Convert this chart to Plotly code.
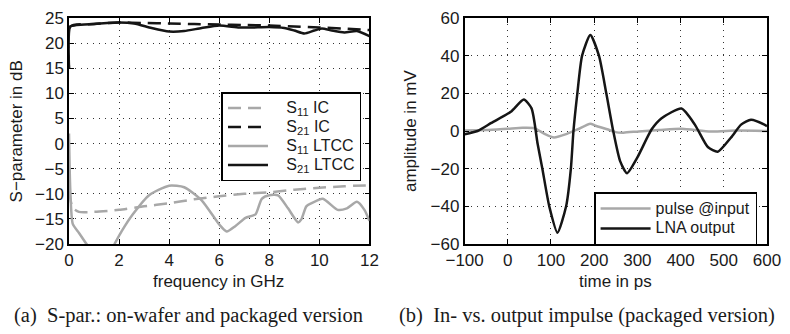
import plotly.graph_objects as go

# ---- left panel data (frequency in GHz, S-parameters in dB) ----
f_s21_ltcc = [0, 0.05, 0.3, 1, 2, 2.6, 3.3, 4, 4.6, 5.3, 6, 6.8, 7.3, 8, 8.6, 9.0, 9.4, 9.8, 10.1, 10.5, 11, 11.5, 12]
s21_ltcc = [15, 23.3, 23.6, 23.8, 24.1, 23.9, 23.0, 22.3, 22.4, 23.0, 23.5, 23.1, 23.1, 23.2, 23.0, 22.5, 21.9, 22.5, 22.9, 22.5, 22.1, 22.4, 21.4]

f_s21_ic = [0, 0.05, 1, 2, 3, 4, 5, 6, 7, 8, 9, 10, 11, 12]
s21_ic = [15, 23.3, 23.8, 24.1, 24.0, 23.9, 23.8, 23.7, 23.6, 23.5, 23.3, 23.1, 22.9, 22.6]

f_s11_ic = [0, 0.15, 0.4, 1, 2, 3, 4, 5, 6, 7, 8, 9, 10, 11, 12]
s11_ic = [-9.5, -12.8, -13.6, -13.6, -13.2, -12.5, -11.9, -11.1, -10.5, -10.0, -9.7, -9.2, -8.8, -8.5, -8.3]

f_s11_ltcc = [0, 0.05, 0.15, 0.4, 0.7, 1.0, 1.3, 1.6, 1.82, 2.1, 2.55, 3.2, 4.0, 4.6, 5.3, 6.0, 6.3, 6.65,
              7.05, 7.45, 7.7, 8.0, 8.35, 8.75, 9.15, 9.28, 9.48, 9.68, 10.14, 10.73, 11.1, 11.5, 11.8, 12]
s11_ltcc = [2, -9, -16, -17.8, -20, -22, -23, -22, -20, -17.5, -14.1, -10.3, -8.4, -8.7, -11.3, -16.1, -17.5, -16.4,
            -14.8, -14.1, -11.0, -10.3, -10.3, -12.9, -15.7, -15.1, -12.5, -11.9, -11.0, -13.2, -12.9, -11.6, -13.2, -15.4]

# ---- right panel data (time in ps, amplitude in mV) ----
t_lna = [-100, -70, -38, 7, 37, 55, 69, 80, 96, 115, 135, 146, 152, 161, 172, 191, 211, 228, 244, 260, 276,
         300, 333, 356, 402, 433, 463, 486, 517, 540, 563, 594, 600]
v_lna = [-1.7, 0, 4.3, 10.2, 16.7, 12, -6.8, -20, -40, -54, -40, -20, 0, 20, 40, 51, 40, 20, 0, -16, -22.4,
         -14, 0.9, 6.8, 11.9, 3.4, -8.5, -11, -3.4, 3.4, 6, 3.4, 2.5]

t_pulse = [-100, -50, 0, 34, 61, 85, 107, 137, 161, 191, 203, 230, 249, 268, 303, 350, 402, 470, 530, 600]
v_pulse = [0.3, 0.5, 1.2, 1.7, 1.5, -1.5, -3.4, -1.5, 0.8, 3.9, 2.8, 0.9, -0.6, -0.9, -0.2, 0.5, 1.2, -0.3, 0.2, 0]

left_xticks = [0, 2, 4, 6, 8, 10, 12]
left_yticks = [-20, -15, -10, -5, 0, 5, 10, 15, 20, 25]
right_xticks = [-100, 0, 100, 200, 300, 400, 500, 600]
right_yticks = [-60, -40, -20, 0, 20, 40, 60]

left_names = ["S<sub>11</sub> IC", "S<sub>21</sub> IC", "S<sub>11</sub> LTCC", "S<sub>21</sub> LTCC"]
right_names = ["pulse @input", "LNA output"]
captions = ["(a)  S-par.: on-wafer and packaged version", "(b)  In- vs. output impulse (packaged version)"]

GRAY = "#a8a8a8"
BLACK = "#151515"
LW = 2.5
SANS = "Liberation Sans, Arial, sans-serif"
SERIF = "Liberation Serif, Times New Roman, serif"


def big(s, size=16):
    return '<span style="font-size:%dpx">%s</span>' % (size, s)


fig = go.Figure()

fig.add_trace(go.Scatter(x=f_s11_ic, y=s11_ic, mode="lines", name=big("&nbsp;&nbsp;&nbsp;" + left_names[0]),
                         line=dict(color=GRAY, width=LW, dash="13px,7px", shape="spline", smoothing=0.6),
                         xaxis="x", yaxis="y", legend="legend"))
fig.add_trace(go.Scatter(x=f_s21_ic, y=s21_ic, mode="lines", name=big("&nbsp;&nbsp;&nbsp;" + left_names[1]),
                         line=dict(color=BLACK, width=LW, dash="13px,7px", shape="spline", smoothing=0.6),
                         xaxis="x", yaxis="y", legend="legend"))
fig.add_trace(go.Scatter(x=f_s11_ltcc, y=s11_ltcc, mode="lines", name=big("&nbsp;&nbsp;&nbsp;" + left_names[2]),
                         line=dict(color=GRAY, width=LW, shape="spline", smoothing=0.6),
                         xaxis="x", yaxis="y", legend="legend", cliponaxis=False))
fig.add_trace(go.Scatter(x=f_s21_ltcc, y=s21_ltcc, mode="lines", name=big("&nbsp;&nbsp;&nbsp;" + left_names[3]),
                         line=dict(color=BLACK, width=LW, shape="spline", smoothing=0.6),
                         xaxis="x", yaxis="y", legend="legend"))

fig.add_trace(go.Scatter(x=t_pulse, y=v_pulse, mode="lines", name=big(right_names[0]),
                         line=dict(color=GRAY, width=LW, shape="spline", smoothing=0.6),
                         xaxis="x2", yaxis="y2", legend="legend2"))
fig.add_trace(go.Scatter(x=t_lna, y=v_lna, mode="lines", name=big(right_names[1]),
                         line=dict(color=BLACK, width=LW, shape="spline", smoothing=0.6),
                         xaxis="x2", yaxis="y2", legend="legend2"))

W, H = 790, 334
ML, MR, MT, MB = 69, 17, 9, 90
PW = W - ML - MR
PH = H - MT - MB


def px(x):
    return (x - ML) / PW


def py(y):
    return 1 - (y - MT) / PH


axis_common = dict(showline=True, linewidth=1.5, linecolor="black", mirror="ticks",
                   ticks="inside", ticklen=5, tickwidth=1, tickcolor="black",
                   showgrid=True, gridcolor="#333333", gridwidth=1, griddash="1px,5px",
                   zeroline=False, tickfont=dict(family=SANS, size=17, color="#1a1a1a"))

fig.update_layout(
    width=W, height=H,
    margin=dict(l=ML, r=MR, t=MT, b=MB),
    plot_bgcolor="white", paper_bgcolor="white",
    xaxis=dict(domain=[0, px(372)], range=[0, 12], tickvals=left_xticks, anchor="y", **axis_common),
    yaxis=dict(domain=[0, 1], range=[-20, 25], tickvals=left_yticks, anchor="x", layer="below traces",
               **axis_common),
    xaxis2=dict(domain=[px(468), 1], range=[-100, 600], tickvals=right_xticks, anchor="y2", **axis_common),
    yaxis2=dict(domain=[0, 1], range=[-60, 60], tickvals=right_yticks, anchor="x2", **axis_common),
    legend=dict(x=px(364), y=py(86), xanchor="right", yanchor="top",
                bgcolor="white", bordercolor="black", borderwidth=1.5,
                font=dict(family=SANS, size=12, color="#1a1a1a"), itemwidth=40,
                tracegroupgap=0),
    legend2=dict(x=px(763), y=py(190), xanchor="right", yanchor="top",
                 bgcolor="white", bordercolor="black", borderwidth=1.5,
                 font=dict(family=SANS, size=13, color="#1a1a1a"), itemwidth=50,
                 tracegroupgap=0),
    showlegend=True,
)

ann_font = dict(family=SANS, size=17, color="#1a1a1a")
cap_font = dict(family=SERIF, size=20.5, color="#1a1a1a")
fig.add_annotation(text="frequency in GHz", x=px(220), y=py(283), xref="paper", yref="paper",
                   showarrow=False, font=ann_font, xanchor="center", yanchor="middle")
fig.add_annotation(text="time in ps", x=px(620), y=py(283), xref="paper", yref="paper",
                   showarrow=False, font=ann_font, xanchor="center", yanchor="middle")
fig.add_annotation(text="S−parameter in dB", x=px(16), y=py(126.5), xref="paper", yref="paper",
                   showarrow=False, font=ann_font, textangle=-90, xanchor="center", yanchor="middle")
fig.add_annotation(text="amplitude in mV", x=px(413), y=py(126.5), xref="paper", yref="paper",
                   showarrow=False, font=ann_font, textangle=-90, xanchor="center", yanchor="middle")
fig.add_annotation(text=captions[0], x=px(12), y=py(318), xref="paper", yref="paper",
                   showarrow=False, font=cap_font, xanchor="left", yanchor="middle")
fig.add_annotation(text=captions[1], x=px(400), y=py(318), xref="paper", yref="paper",
                   showarrow=False, font=cap_font, xanchor="left", yanchor="middle")

fig.write_html("out.html")
